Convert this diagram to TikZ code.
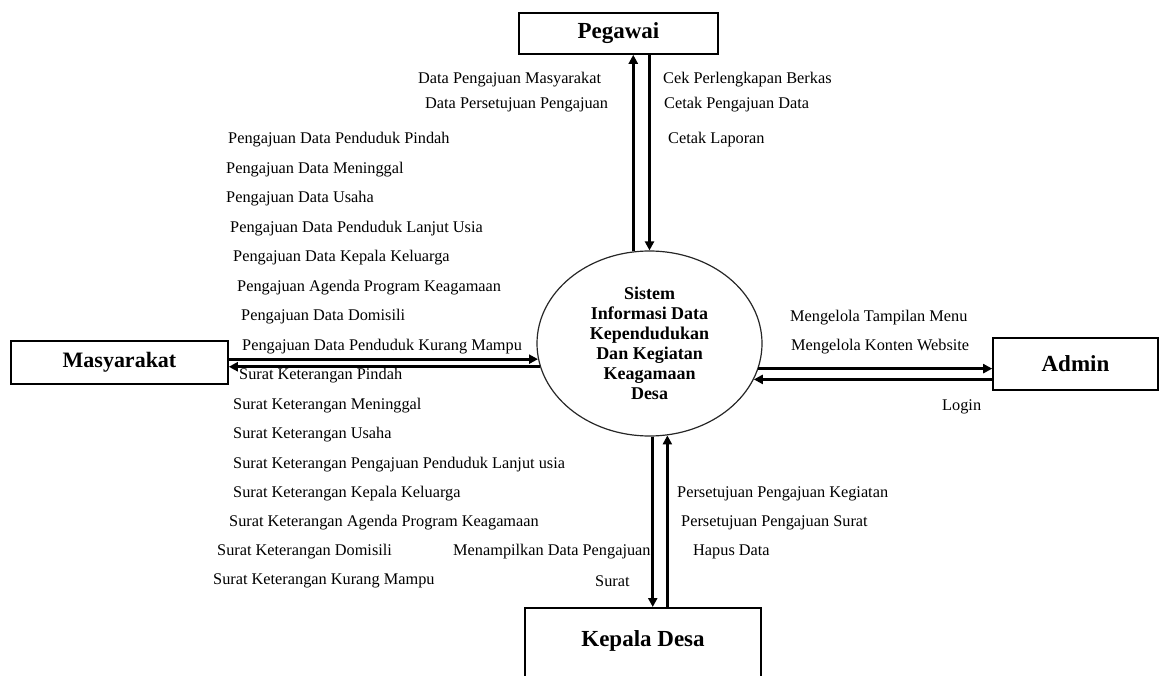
\documentclass[tikz,border=0pt]{standalone}
\usepackage{fontspec}
\setmainfont{Liberation Serif}
\usetikzlibrary{arrows.meta,shapes.geometric,positioning}
\tikzset{
  ent/.style={rectangle,draw=black,line width=1.6pt,inner sep=0pt,font=\fontsize{23}{25}\selectfont\bfseries},
  proc/.style={ellipse,draw=black!85,line width=1.2pt,minimum width=225pt,minimum height=185pt,inner sep=0pt,
    align=center,font=\fontsize{18}{20}\selectfont\bfseries},
  flw/.style={-{Triangle[length=9pt,width=9pt]},line width=2.7pt,draw=black},
  lb/.style={anchor=west,inner sep=0pt,font=\fontsize{16.3}{18}\selectfont},
}

\begin{document}
\begin{tikzpicture}[x=1pt,y=-1pt]
\useasboundingbox (0,0) rectangle (1162,676);
% ---- entities and the process
\node[ent,minimum width=199pt,minimum height=41pt] (peg) at (618.5,33.5) {Pegawai};
\node[ent,minimum width=217pt,minimum height=43pt,font=\fontsize{22}{24}\selectfont\bfseries] (mas) at (119.5,362.5) {Masyarakat};
\node[ent,minimum width=165pt,minimum height=52pt] (adm) at (1075.5,364) {Admin};
\node[ent,minimum width=236pt,minimum height=90pt,anchor=north,text height=16pt,text depth=28pt] (kd) at (643,607) {Kepala Desa};
\node[proc] (sis) at (649.5,343.5)
  {Sistem\\ Informasi Data\\ Kependudukan\\ Dan Kegiatan\\ Keagamaan\\ Desa};
% ---- data flows
\draw[flw] (sis.100.8) -- (sis.100.8 |- peg.south);
\draw[flw] (peg.south -| sis.90) -- (sis.90);
\draw[flw] (sis.188 -| mas.east) -- (sis.188);
\draw[flw] (sis.192.7) -- (sis.192.7 -| mas.east);
\draw[flw] (sis.347.3) -- (sis.347.3 -| adm.west);
\draw[flw] (sis.341.1 -| adm.west) -- (sis.341.1);
\draw[flw] (sis.272.2) -- (sis.272.2 |- kd.north);
\draw[flw] (sis.281.5 |- kd.north) -- (sis.281.5);
% ---- Pegawai
\node[lb] (pg1) at (418,80) {Data Pengajuan Masyarakat};
\node[lb] (pg2) at (425,105) {Data Persetujuan Pengajuan};
\node[lb] (pg3) at (663,80) {Cek Perlengkapan Berkas};
\node[lb] (pg4) at (664,105) {Cetak Pengajuan Data};
\node[lb] (pg5) at (668,140) {Cetak Laporan};
% ---- Masyarakat, requests
\node[lb] (mq1) at (228,140) {Pengajuan Data Penduduk Pindah};
\node[lb] (mq2) at (226,169.5) {Pengajuan Data Meninggal};
\node[lb] (mq3) at (226,199) {Pengajuan Data Usaha};
\node[lb] (mq4) at (230,228.5) {Pengajuan Data Penduduk Lanjut Usia};
\node[lb] (mq5) at (233,258) {Pengajuan Data Kepala Keluarga};
\node[lb] (mq6) at (237,287.5) {Pengajuan Agenda Program Keagamaan};
\node[lb] (mq7) at (241,317) {Pengajuan Data Domisili};
\node[lb] (mq8) at (242,346.5) {Pengajuan Data Penduduk Kurang Mampu};
% ---- Masyarakat, letters
\node[lb] (ms1) at (239,376) {Surat Keterangan Pindah};
\node[lb] (ms2) at (233,405.5) {Surat Keterangan Meninggal};
\node[lb] (ms3) at (233,435) {Surat Keterangan Usaha};
\node[lb] (ms4) at (233,464.5) {Surat Keterangan Pengajuan Penduduk Lanjut usia};
\node[lb] (ms5) at (233,493.5) {Surat Keterangan Kepala Keluarga};
\node[lb] (ms6) at (229,523) {Surat Keterangan Agenda Program Keagamaan};
\node[lb] (ms7) at (217,552) {Surat Keterangan Domisili};
\node[lb] (ms8) at (213,581) {Surat Keterangan Kurang Mampu};
% ---- Kepala Desa
\node[lb] (kd1) at (453,552) {Menampilkan Data Pengajuan};
\node[lb] (kd2) at (595,581) {Surat};
\node[lb] (kd3) at (677,494) {Persetujuan Pengajuan Kegiatan};
\node[lb] (kd4) at (681,523) {Persetujuan Pengajuan Surat};
\node[lb] (kd5) at (693,552) {Hapus Data};
% ---- Admin
\node[lb] (ad1) at (790,318) {Mengelola Tampilan Menu};
\node[lb] (ad2) at (791,346.5) {Mengelola Konten Website};
\node[lb] (ad3) at (942,407) {Login};
\end{tikzpicture}
\end{document}
